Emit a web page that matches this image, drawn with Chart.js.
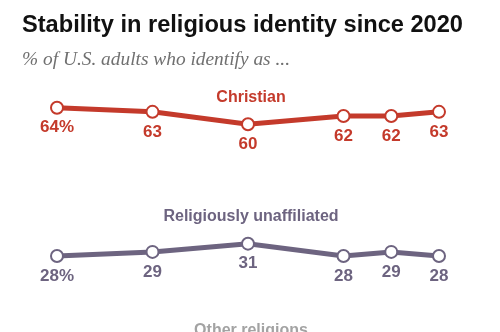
<!DOCTYPE html>
<html>
<head>
<meta charset="utf-8">
<script src="https://cdn.jsdelivr.net/npm/chart.js@4"></script>
<style>
  html, body { margin: 0; padding: 0; background: #fff; }
  #wrap { position: relative; width: 500px; height: 332px; overflow: hidden; }
</style>
</head>
<body>
<div id="wrap"><canvas id="religion_chart" width="500" height="332"></canvas></div>
<script>
// survey waves, placed on a time axis (no labels shown in the original)
const surveyTimes = [2020, 2021, 2022, 2023, 2023.5, 2024]
const christianValues = [64, 63, 60, 62, 62, 63]
const unaffiliatedValues = [28, 29, 31, 28, 29, 28]
const seriesNames = ['Christian', 'Religiously unaffiliated', 'Other religions']

const titleText = 'Stability in religious identity since 2020'
const subtitleText = '% of U.S. adults who identify as ...'

const RED = '#c43a2b'
const PURPLE = '#6d6480'

function toPoints(values) {
  return values.map((v, i) => ({ x: surveyTimes[i], y: v }))
}

// draws text squeezed/stretched horizontally to a given width
function fitText(ctx, text, x, y, width) {
  const w = ctx.measureText(text).width
  ctx.save()
  ctx.translate(x, y)
  ctx.scale(width / w, 1)
  ctx.fillText(text, 0, 0)
  ctx.restore()
}

const labelsPlugin = {
  id: 'pewLabels',
  afterDraw(chart) {
    const ctx = chart.ctx
    const xs = chart.scales.x
    const ys = chart.scales.y
    ctx.save()

    // heading
    ctx.textAlign = 'left'
    ctx.textBaseline = 'alphabetic'
    ctx.fillStyle = '#111'
    ctx.font = 'bold 23px "Liberation Sans", Arial, sans-serif'
    fitText(ctx, titleText, 22, 32, 441)
    ctx.fillStyle = '#707070'
    ctx.font = 'italic 18px "Liberation Serif", Georgia, serif'
    fitText(ctx, subtitleText, 22, 65, 268)

    // series names
    ctx.textAlign = 'center'
    ctx.textBaseline = 'middle'
    ctx.font = 'bold 16px "Liberation Sans", Arial, sans-serif'
    ctx.fillStyle = RED
    ctx.fillText(seriesNames[0], 251, 98)
    ctx.fillStyle = PURPLE
    ctx.fillText(seriesNames[1], 251, 217)
    ctx.fillStyle = '#a3a3a3'
    ctx.fillText(seriesNames[2], 251, 331)

    // value labels under each point
    ctx.font = 'bold 17px "Liberation Sans", Arial, sans-serif'
    chart.data.datasets.forEach(ds => {
      ctx.fillStyle = ds.borderColor
      ds.data.forEach((p, i) => {
        const txt = i === 0 ? p.y + '%' : String(p.y)
        ctx.fillText(txt, xs.getPixelForValue(p.x), ys.getPixelForValue(p.y) + 20)
      })
    })
    ctx.restore()
  }
}

new Chart(document.getElementById('religion_chart'), {
  type: 'line',
  data: {
    datasets: [
      {
        label: seriesNames[0],
        data: toPoints(christianValues),
        borderColor: RED,
        backgroundColor: '#fff',
        pointBackgroundColor: '#fff',
        pointBorderColor: RED,
        borderWidth: 5,
        pointRadius: 6,
        pointBorderWidth: 2,
      },
      {
        label: seriesNames[1],
        data: toPoints(unaffiliatedValues),
        borderColor: PURPLE,
        backgroundColor: '#fff',
        pointBackgroundColor: '#fff',
        pointBorderColor: PURPLE,
        borderWidth: 5,
        pointRadius: 6,
        pointBorderWidth: 2,
      },
    ]
  },
  options: {
    responsive: false,
    animation: false,
    clip: false,
    layout: { padding: { left: 57, right: 61, top: 83, bottom: 8 } },
    plugins: {
      legend: { display: false },
      tooltip: { enabled: false },
    },
    scales: {
      x: { type: 'linear', min: 2020, max: 2024, display: false },
      y: { type: 'linear', min: 11.5, max: 70, display: false },
    }
  },
  plugins: [labelsPlugin]
})
</script>
</body>
</html>
